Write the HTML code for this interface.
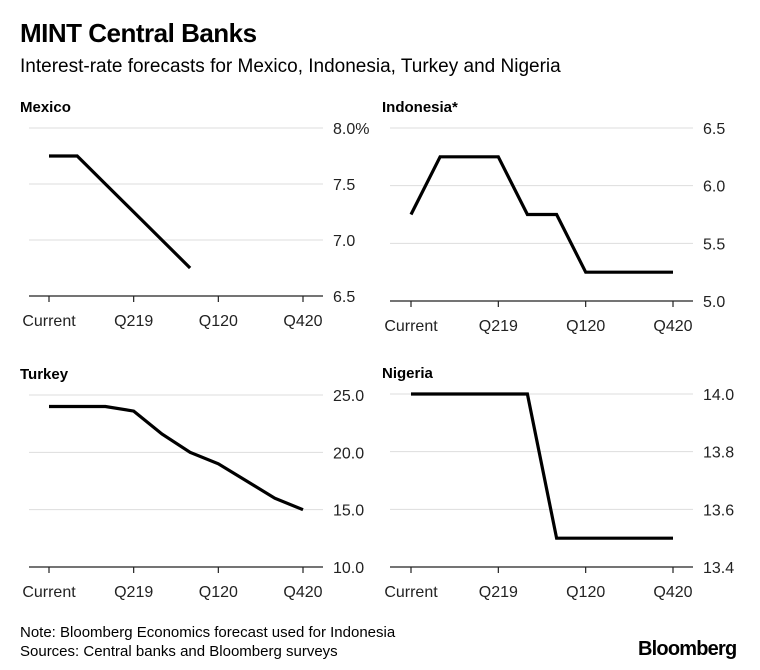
<!DOCTYPE html>
<html><head><meta charset="utf-8"><style>
body{margin:0;background:#fff;font-family:"Liberation Sans",Arial,sans-serif;}
#wrap{position:relative;width:760px;height:670px;overflow:hidden;}
.t{position:absolute;white-space:nowrap;color:#000;}
</style></head><body>
<div id="wrap">
<div class="t" style="left:20px;top:18px;font-size:26px;font-weight:bold;letter-spacing:-0.5px">MINT Central Banks</div>
<div class="t" style="left:20px;top:56px;font-size:19px">Interest-rate forecasts for Mexico, Indonesia, Turkey and Nigeria</div>
<svg id="svg" width="760" height="670" style="position:absolute;left:0;top:0"></svg>
<div class="t" style="left:20px;top:624px;font-size:15px">Note: Bloomberg Economics forecast used for Indonesia</div>
<div class="t" style="left:20px;top:643px;font-size:15px">Sources: Central banks and Bloomberg surveys</div>
<div class="t" style="left:638px;top:638px;font-size:20px;font-weight:bold;letter-spacing:-0.8px">Bloomberg</div>
</div>
<script>
const xLabels=["Current","Q219","Q120","Q420"];
const mexicoValues=[7.75,7.75,7.5,7.25,7.0,6.75];
const indonesiaValues=[5.75,6.25,6.25,6.25,5.75,5.75,5.25,5.25,5.25,5.25];
const turkeyValues=[24,24,24,23.6,21.6,20,19,17.5,16,15];
const nigeriaValues=[14,14,14,14,14,13.5,13.5,13.5,13.5,13.5];
const mexicoTicks=["8.0%","7.5","7.0","6.5"];const mexicoTickVals=[8,7.5,7,6.5];
const indonesiaTicks=["6.5","6.0","5.5","5.0"];const indonesiaTickVals=[6.5,6,5.5,5];
const turkeyTicks=["25.0","20.0","15.0","10.0"];const turkeyTickVals=[25,20,15,10];
const nigeriaTicks=["14.0","13.8","13.6","13.4"];const nigeriaTickVals=[14,13.8,13.6,13.4];
const NS="http://www.w3.org/2000/svg";const svg=document.getElementById('svg');
function mk(tag,at,txt){const e=document.createElementNS(NS,tag);for(const k in at)e.setAttribute(k,at[k]);if(txt!=null)e.textContent=txt;svg.appendChild(e);return e;}
function panel(key,title,tx,gl,gr,x0,x1,lx,top,bot,vals,ticks,tickVals){
 const step=(x1-x0)/9;
 const xs=i=>x0+i*step;
 const ymax=tickVals[0],ymin=tickVals[tickVals.length-1];
 const ys=v=>bot-(v-ymin)/(ymax-ymin)*(bot-top);
 let e=mk('text',{x:tx,y:top-16,'font-size':15,'font-weight':'bold','font-family':'Liberation Sans, sans-serif'},title);
 
 tickVals.forEach((v,i)=>{
  const y=ys(v);const last=i==tickVals.length-1;
  e=mk('line',{x1:gl,x2:gr,y1:y,y2:y,stroke:last?'#222':'#ddd','stroke-width':last?1.2:1});
  
  e=mk('text',{x:lx,y:y+6,'font-size':16,fill:'#222','font-family':'Liberation Sans, sans-serif'},ticks[i]);
  
 });
 xLabels.forEach((l,i)=>{
  const x=xs(i*3);
  e=mk('line',{x1:x,x2:x,y1:bot,y2:bot+6,stroke:'#222','stroke-width':1.2});
  
  e=mk('text',{x:x,y:bot+30,'font-size':16,fill:'#222','text-anchor':'middle','font-family':'Liberation Sans, sans-serif'},l);
  
 });
 const pts=vals.map((v,i)=>xs(i).toFixed(1)+','+ys(v).toFixed(1)).join(' ');
 e=mk('polyline',{points:pts,fill:'none',stroke:'#000','stroke-width':3.2,'stroke-linejoin':'miter'});
 
}
panel('mexico','Mexico',20,29,323,49,303,333,128,296,mexicoValues,mexicoTicks,mexicoTickVals);
panel('indonesia','Indonesia*',382,390,693,411,673,703,128,301,indonesiaValues,indonesiaTicks,indonesiaTickVals);
panel('turkey','Turkey',20,29,323,49,303,333,395,567,turkeyValues,turkeyTicks,turkeyTickVals);
panel('nigeria','Nigeria',382,390,693,411,673,703,394,567,nigeriaValues,nigeriaTicks,nigeriaTickVals);
</script>
</body></html>
